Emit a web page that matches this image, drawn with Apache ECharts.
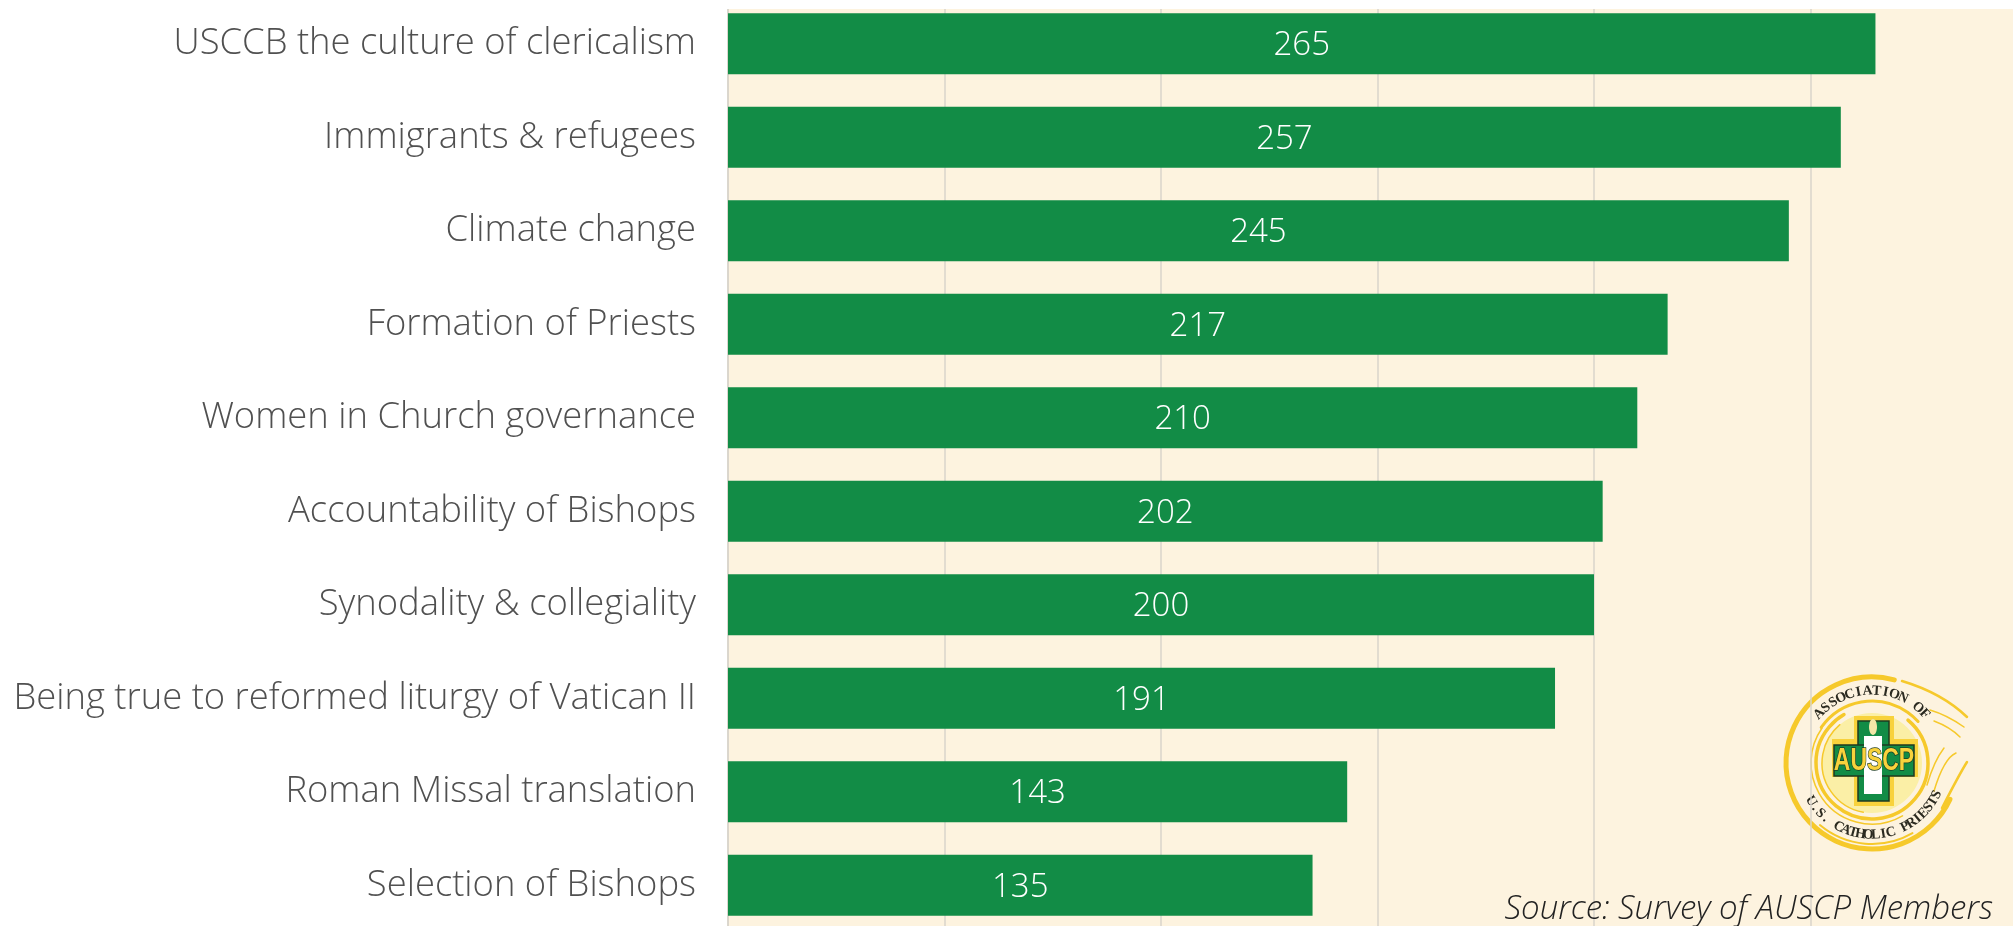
<!DOCTYPE html>
<html><head><meta charset="utf-8">
<style>html,body{margin:0;padding:0;background:#fff}#c{width:2013px;height:926px}</style>
<script src="https://cdn.jsdelivr.net/npm/echarts@6/dist/echarts.min.js"></script>
</head><body><div id="c"></div>
<script>
const categories = ['USCCB the culture of clericalism','Immigrants & refugees','Climate change','Formation of Priests','Women in Church governance','Accountability of Bishops','Synodality & collegiality','Being true to reformed liturgy of Vatican II','Roman Missal translation','Selection of Bishops'];
const values = [265,257,245,217,210,202,200,191,143,135];
const sourceText = 'Source: Survey of AUSCP Members';
const FONT = '"Open Sans"';
const YEL = '#F6C92B', GRN = '#128C46';

function arc(r, a0, a1, lw, color) {
  return {type:'arc', shape:{cx:0,cy:0,r:r,startAngle:a0*Math.PI/180,endAngle:a1*Math.PI/180,clockwise:true},
    style:{stroke:color||YEL,fill:'none',lineWidth:lw,lineCap:'round'}};
}
function curve(x1,y1,cx,cy,x2,y2,lw) {
  return {type:'bezierCurve', shape:{x1,y1,x2,y2,cpx1:cx,cpy1:cy}, style:{stroke:YEL,fill:'none',lineWidth:lw,lineCap:'round'}};
}
function rect(x,y,w,h,fill,stroke) {
  return {type:'rect', shape:{x,y,width:w,height:h}, style:{fill:fill,stroke:stroke||'none',lineWidth:stroke?1.5:0}};
}
function ringText(str, r, a0, a1, top) {
  const n = str.length, out = [];
  for (let i=0;i<n;i++) {
    const t = a0 + (a1-a0)*i/(n-1), rad = t*Math.PI/180;
    const x = r*Math.sin(rad);
    const y = top ? -r*Math.cos(rad) : r*Math.cos(rad);
    out.push({type:'text', x, y, rotation: top ? -rad : rad,
      style:{text:str[i], fill:'#2b2a20', font:'bold 14px "Liberation Serif"', align:'center', verticalAlign:'middle'}});
  }
  return out;
}
const logo = {
  type:'group', x:1872, y:763, z:50,
  children:[
    {type:'circle', shape:{cx:0,cy:0,r:50}, style:{fill:'#FBEFA6'}},
    arc(86,25,285,5), arc(81,60,130,2), arc(56,-50,240,3.5), arc(61,60,215,1.5), arc(50,100,230,1.5),
    arc(62,215,318,3),
    curve(30,-82,70,-70,95,-46,2.5), curve(58,-53,75,-48,92,-36,1.5), curve(62,-42,78,-36,88,-26,1.5),
    curve(70,45,88,10,95,-1,2.5), curve(62,28,72,-5,84,-10,1.5), curve(55,22,62,-2,72,-15,1.5),
    ...ringText('ASSOCIATION OF',72,-47,47,true),
    ...ringText('U.S. CATHOLIC PRIESTS',72,-58,64,false),
    rect(-18,-47,40,90,'#F8D23C'),
    rect(-40,-24,86,38,'#F8D23C'),
    rect(-14,-42,31,80,GRN,'#1c3a22'),
    rect(-38,-18,80,31,GRN,'#1c3a22'),
    rect(-8,-27,18,58,'#ffffff'),
    {type:'ellipse', shape:{cx:1,cy:-36,rx:4,ry:8}, style:{fill:'#F3E6A8'}},
    {type:'text', x:2, y:-2, scaleX:0.74, style:{text:'AUSCP', fill:'#F8D23C', stroke:'#1c3a22', lineWidth:1.5, font:'bold 31px "Liberation Sans"', align:'center', verticalAlign:'middle'}}
  ]
};

const chart = echarts.init(document.getElementById('c'));
chart.setOption({
  animation:false,
  backgroundColor:'#ffffff',
  grid:{left:728, top:-3, width:1299, height:935, show:true, backgroundColor:'#FDF3DF', borderWidth:0, containLabel:false, outerBoundsMode:'none'},
  xAxis:{type:'value', min:0, max:300, interval:50, axisLabel:{show:false}, axisTick:{show:false}, axisLine:{show:false},
    splitLine:{show:true, lineStyle:{color:'#D9D5CB', width:1.5}}},
  yAxis:{type:'category', inverse:true, data:categories,
    axisTick:{show:false},
    axisLine:{show:true, lineStyle:{color:'#D9D5CB', width:1.5}},
    axisLabel:{margin:32, fontFamily:FONT, fontWeight:300, fontSize:36.4, color:'#505050', padding:[4,0,0,0]}},
  series:[{type:'bar', data:values, barWidth:61, itemStyle:{color:GRN},
    label:{show:true, position:'inside', offset:[0,2], color:'#ffffff', fontFamily:FONT, fontWeight:300, fontSize:33}}],
  graphic:[
    {type:'rect', z:100, shape:{x:700,y:0,width:1313,height:9}, style:{fill:'#ffffff'}},
    {type:'text', z:60, x:1993, y:910, style:{text:sourceText, fill:'#222222', font:'italic 300 33px '+FONT, align:'right', verticalAlign:'middle'}},
    logo
  ]
});
</script></body></html>
